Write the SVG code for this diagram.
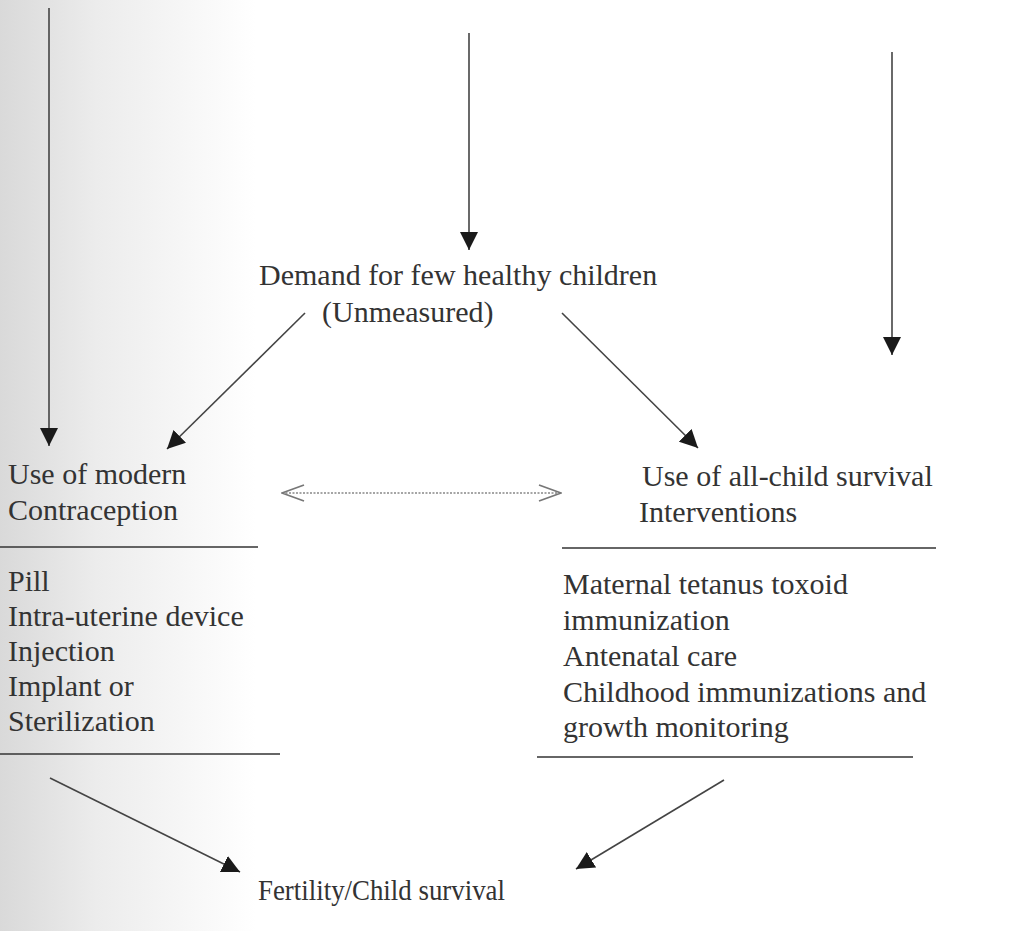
<svg xmlns="http://www.w3.org/2000/svg" width="1028" height="931" viewBox="0 0 1028 931">
<defs>
<linearGradient id="shade" x1="0" y1="0" x2="1" y2="0">
<stop offset="0" stop-color="#d9d9d9"/>
<stop offset="0.3" stop-color="#ececec"/>
<stop offset="0.8" stop-color="#ffffff"/>
<stop offset="1" stop-color="#ffffff"/>
</linearGradient>
<marker id="head" viewBox="0 0 18 18" refX="18" refY="9" markerWidth="18" markerHeight="18" markerUnits="userSpaceOnUse" orient="auto">
<path d="M0,0 L18,9 L0,18 Z" fill="#1a1a1a"/>
</marker>
<marker id="chev" viewBox="0 0 24 20" refX="23" refY="10" markerWidth="24" markerHeight="20" markerUnits="userSpaceOnUse" orient="auto-start-reverse">
<path d="M1,2 L23,10 L1,18" fill="none" stroke="#777" stroke-width="1.8"/>
</marker>
<style>
.t{font-family:"Liberation Serif","Times New Roman",serif;font-size:30px;fill:#333}
.c{stroke:#444;stroke-width:1.6;fill:none}
.r{stroke:#333;stroke-width:1.6}
</style>
</defs>
<rect x="0" y="0" width="1028" height="931" fill="#ffffff"/>
<rect x="0" y="0" width="320" height="931" fill="url(#shade)"/>

<g id="connectors">
<line class="c" x1="49" y1="8" x2="49" y2="446" marker-end="url(#head)"/>
<line class="c" x1="469" y1="33" x2="469" y2="250" marker-end="url(#head)"/>
<line class="c" x1="892" y1="52" x2="892" y2="355" marker-end="url(#head)"/>
<line class="c" x1="305" y1="313" x2="167" y2="449" marker-end="url(#head)"/>
<line class="c" x1="562" y1="313" x2="698" y2="448" marker-end="url(#head)"/>
<line class="c" x1="50" y1="778" x2="240" y2="872" marker-end="url(#head)"/>
<line class="c" x1="724" y1="780" x2="576" y2="869" marker-end="url(#head)"/>
<line x1="282" y1="493" x2="561" y2="493" stroke="#888" stroke-width="1.6" stroke-dasharray="2,1.5" marker-start="url(#chev)" marker-end="url(#chev)"/>
</g>

<g id="demand">
<text class="t" x="259" y="285">Demand for few healthy children</text>
<text class="t" x="322" y="322">(Unmeasured)</text>
</g>

<g id="contraception">
<text class="t" x="8" y="484">Use of modern</text>
<text class="t" x="8" y="520">Contraception</text>
<line class="r" x1="0" y1="547" x2="258" y2="547"/>
<text class="t" x="8" y="591">Pill</text>
<text class="t" x="8" y="626">Intra-uterine device</text>
<text class="t" x="8" y="661">Injection</text>
<text class="t" x="8" y="696">Implant or</text>
<text class="t" x="8" y="731">Sterilization</text>
<line class="r" x1="0" y1="754" x2="280" y2="754"/>
</g>

<g id="interventions">
<text class="t" x="642" y="486">Use of all-child survival</text>
<text class="t" x="639" y="522">Interventions</text>
<line class="r" x1="562" y1="548" x2="936" y2="548"/>
<text class="t" x="563" y="594">Maternal tetanus toxoid</text>
<text class="t" x="563" y="630">immunization</text>
<text class="t" x="563" y="666">Antenatal care</text>
<text class="t" x="563" y="702">Childhood immunizations and</text>
<text class="t" x="563" y="737">growth monitoring</text>
<line class="r" x1="537" y1="757" x2="913" y2="757"/>
</g>

<g id="outcome">
<text class="t" x="258" y="900" textLength="247" lengthAdjust="spacingAndGlyphs">Fertility/Child survival</text>
</g>
</svg>
